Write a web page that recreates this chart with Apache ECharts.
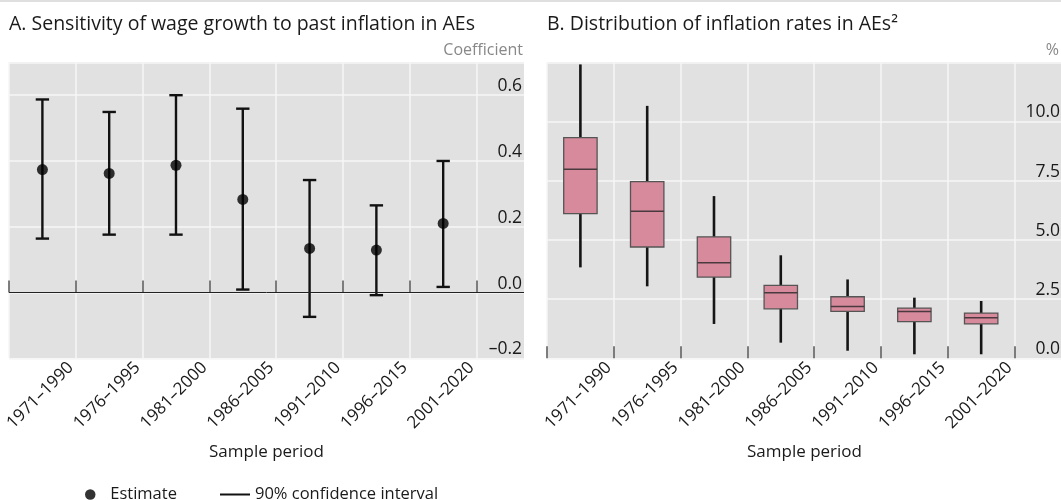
<!DOCTYPE html>
<html><head><meta charset="utf-8">
<script src="https://cdn.jsdelivr.net/npm/echarts@6/dist/echarts.min.js"></script>
<style>html,body{margin:0;padding:0;background:#fff}#c{width:1061px;height:500px}</style>
</head><body><div id="c"></div>
<script>
// ---- data ----
const categories = ['1971–1990','1976–1995','1981–2000','1986–2005','1991–2010','1996–2015','2001–2020'];
// Panel A: estimate and 90% confidence interval
const estimate = [0.374, 0.362, 0.387, 0.283, 0.134, 0.129, 0.210];
const ciLow    = [0.164, 0.176, 0.176, 0.009, -0.074, -0.008, 0.017];
const ciHigh   = [0.587, 0.549, 0.600, 0.559, 0.342, 0.265, 0.400];
// Panel B: distribution of inflation rates (%)
const boxMin    = [3.84, 3.04, 1.45, 0.66, 0.32, 0.17, 0.17];
const boxQ1     = [6.11, 4.70, 3.43, 2.09, 1.98, 1.55, 1.45];
const boxMedian = [7.98, 6.21, 4.04, 2.77, 2.19, 1.98, 1.71];
const boxQ3     = [9.32, 7.46, 5.13, 3.08, 2.60, 2.12, 1.91];
const boxMax    = [12.41, 10.66, 6.85, 4.35, 3.33, 2.56, 2.42];
// axis ticks
const leftTicks  = [-0.2, 0.0, 0.2, 0.4, 0.6];
const rightTicks = [0.0, 2.5, 5.0, 7.5, 10.0];

const FONT = 'Open Sans';
const TXT = '#1a1a1a';
const GRID_BG = '#e1e1e1';
const GRID_LINE = '#f6f6f6';
const X_MAX = 7.71;

const catPos = categories.map((c, i) => i + 0.5);
const boundaries = categories.map((c, i) => i).concat([categories.length]);

function xAxisCfg(gridIndex) {
  return {
    type: 'value', gridIndex: gridIndex, min: 0, max: X_MAX, interval: 1,
    axisLine: { show: false },
    axisTick: { show: true, inside: true, length: 12, customValues: boundaries,
      lineStyle: { color: '#555', width: 1.5 } },
    axisLabel: { customValues: catPos, formatter: v => categories[Math.floor(v)] || '',
      rotate: 45, align: 'center', verticalAlign: 'middle', margin: 35, padding: [0, 6, 0, 0],
      fontSize: 17, color: TXT, fontFamily: FONT, hideOverlap: false },
    splitLine: { show: true, lineStyle: { color: GRID_LINE, width: 1.5 } },
    name: 'Sample period', nameLocation: 'middle', nameGap: 93.5, nameMoveOverlap: false,
    nameTextStyle: { fontSize: 17, color: TXT, fontFamily: FONT, verticalAlign: 'middle' }
  };
}
function yAxisCfg(gridIndex, ticks, step, max, fmt) {
  return {
    type: 'value', gridIndex: gridIndex, position: 'right',
    min: ticks[0], max: max, interval: step,
    axisLine: { show: false }, axisTick: { show: false },
    axisLabel: { inside: true, margin: 2, verticalAlign: 'bottom', showMaxLabel: false,
      formatter: fmt, fontSize: 17.5, color: TXT, fontFamily: FONT },
    splitLine: { show: true, lineStyle: { color: GRID_LINE, width: 1.5 } }
  };
}
const fmtLeft = v => (v < -1e-9 ? '–' : '') + Math.abs(v).toFixed(1);
const fmtRight = v => v.toFixed(1);

const ciData = categories.map((c, i) => [catPos[i], ciLow[i], ciHigh[i]]);
const estData = categories.map((c, i) => [catPos[i], estimate[i]]);
const boxData = categories.map((c, i) => [catPos[i], boxMin[i], boxQ1[i], boxMedian[i], boxQ3[i], boxMax[i]]);

function renderCI(params, api) {
  const x = api.value(0);
  const lo = api.coord([x, api.value(1)]);
  const hi = api.coord([x, api.value(2)]);
  const half = api.size([0.2, 0])[0] / 2;
  const st = { stroke: '#111', lineWidth: 2.4 };
  return { type: 'group', children: [
    { type: 'line', shape: { x1: lo[0], y1: lo[1], x2: hi[0], y2: hi[1] }, style: st },
    { type: 'line', shape: { x1: lo[0] - half, y1: lo[1], x2: lo[0] + half, y2: lo[1] }, style: st },
    { type: 'line', shape: { x1: hi[0] - half, y1: hi[1], x2: hi[0] + half, y2: hi[1] }, style: st }
  ]};
}
function renderBox(params, api) {
  const x = api.value(0);
  const lo = api.coord([x, api.value(1)]);
  const q1 = api.coord([x, api.value(2)]);
  const md = api.coord([x, api.value(3)]);
  const q3 = api.coord([x, api.value(4)]);
  const hi = api.coord([x, api.value(5)]);
  const half = api.size([0.5, 0])[0] / 2;
  return { type: 'group', children: [
    { type: 'line', shape: { x1: lo[0], y1: lo[1], x2: hi[0], y2: hi[1] },
      style: { stroke: '#151515', lineWidth: 2.6 } },
    { type: 'rect', shape: { x: q3[0] - half, y: q3[1], width: half * 2, height: q1[1] - q3[1] },
      style: { fill: '#d68a9c', stroke: '#555', lineWidth: 1.3 } },
    { type: 'line', shape: { x1: md[0] - half, y1: md[1], x2: md[0] + half, y2: md[1] },
      style: { stroke: '#4a3a40', lineWidth: 1.5 } }
  ]};
}

const titleStyle = { fontSize: 19.5, fontWeight: 'normal', color: TXT, fontFamily: FONT };
const unitStyle = { fontSize: 16, fontWeight: 'normal', color: '#888', fontFamily: FONT };

const chart = echarts.init(document.getElementById('c'), null, { renderer: 'canvas' });
chart.setOption({
  animation: false,
  backgroundColor: '#fff',
  textStyle: { fontFamily: FONT },
  title: [
    { text: 'A. Sensitivity of wage growth to past inflation in AEs', left: 9, top: 14.5, padding: 0, textStyle: titleStyle },
    { text: 'B. Distribution of inflation rates in AEs²', left: 547, top: 14.5, padding: 0, textStyle: titleStyle },
    { text: 'Coefficient', right: 538, top: 42, padding: 0, textStyle: unitStyle },
    { text: '%', right: 2, top: 42, padding: 0, textStyle: unitStyle }
  ],
  graphic: [
    { type: 'line', shape: { x1: 0, y1: 1, x2: 1061, y2: 1 }, style: { stroke: '#d4d4d4', lineWidth: 1.5 } }
  ],
  legend: [
    { data: [{ name: 'Estimate', icon: 'circle' }], left: 85, top: 486, padding: 0,
      itemWidth: 30, itemHeight: 10.5, selectedMode: false,
      textStyle: { fontSize: 16.5, color: TXT, fontFamily: FONT } },
    { data: [{ name: '90% confidence interval', icon: 'rect' }], left: 220, top: 486, padding: 0,
      itemWidth: 30, itemHeight: 2, selectedMode: false,
      textStyle: { fontSize: 16.5, color: TXT, fontFamily: FONT } }
  ],
  grid: [
    { left: 9, top: 62.3, width: 515, height: 296, show: true, backgroundColor: GRID_BG, borderWidth: 0,
      containLabel: false, outerBoundsMode: 'none' },
    { left: 547, top: 62.3, width: 515, height: 296, show: true, backgroundColor: GRID_BG, borderWidth: 0,
      containLabel: false, outerBoundsMode: 'none' }
  ],
  xAxis: [xAxisCfg(0), xAxisCfg(1)],
  yAxis: [
    yAxisCfg(0, leftTicks, 0.2, 0.7, fmtLeft),
    yAxisCfg(1, rightTicks, 2.5, 12.5, fmtRight)
  ],
  series: [
    { name: '90% confidence interval', type: 'custom', xAxisIndex: 0, yAxisIndex: 0,
      renderItem: renderCI, data: ciData, itemStyle: { color: '#111' }, z: 3,
      encode: { x: 0, y: [1, 2] },
      markLine: { silent: true, symbol: 'none', label: { show: false }, animation: false,
        lineStyle: { color: '#222', width: 1, type: 'solid' }, data: [{ yAxis: 0 }] } },
    { name: 'Estimate', type: 'scatter', xAxisIndex: 0, yAxisIndex: 0, data: estData,
      symbol: 'circle', symbolSize: 11, itemStyle: { color: '#000' }, z: 4 },
    { name: 'Inflation distribution', type: 'custom', xAxisIndex: 1, yAxisIndex: 1,
      renderItem: renderBox, data: boxData, itemStyle: { color: '#d68a9c' },
      encode: { x: 0, y: [1, 2, 3, 4, 5] } }
  ]
});
</script></body></html>
